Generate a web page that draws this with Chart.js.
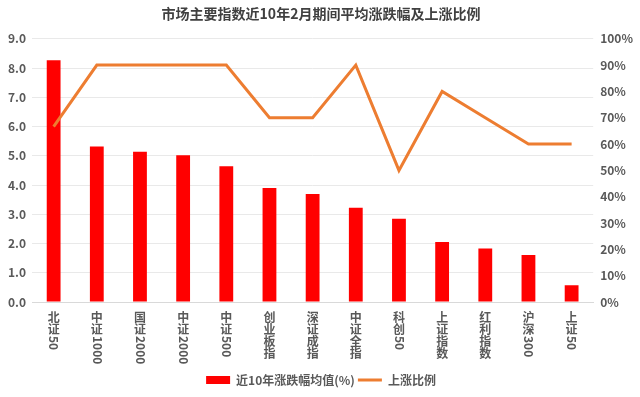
<!DOCTYPE html>
<html>
<head>
<meta charset="utf-8">
<script src="https://cdn.jsdelivr.net/npm/chart.js@4"></script>
<style>
html,body{margin:0;padding:0;background:#fff;}
#wrap{width:640px;height:397px;}
</style>
</head>
<body>
<div id="wrap"><canvas id="c" width="640" height="397"></canvas></div>
<script>
const titleText = '市场主要指数近10年2月期间平均涨跌幅及上涨比例';
const categories = ['北证50','中证1000','国证2000','中证2000','中证500','创业板指','深证成指','中证全指','科创50','上证指数','红利指数','沪深300','上证50'];
const avgChange = [8.27, 5.32, 5.14, 5.02, 4.64, 3.90, 3.69, 3.22, 2.85, 2.05, 1.83, 1.61, 0.57];
const riseRatio = [66.67, 90, 90, 90, 90, 70, 70, 90, 50, 80, 70, 60, 60];
const seriesNames = ['近10年涨跌幅均值(%)', '上涨比例'];

const FONT = '"Noto Sans CJK SC", "Microsoft YaHei", sans-serif';
const TXT = '#595959';

const verticalLabels = {
  id: 'verticalLabels',
  afterDraw(chart) {
    const ctx = chart.ctx;
    const xs = chart.scales.x;
    const top = chart.chartArea.bottom + 9;
    ctx.save();
    ctx.font = 'bold 12px ' + FONT;
    ctx.fillStyle = TXT;
    categories.forEach((lab, i) => {
      const x = xs.getPixelForValue(i);
      let y = top;
      const parts = lab.match(/[\x00-\x7f]+|[^\x00-\x7f]/g);
      parts.forEach(p => {
        if (/^[\x00-\x7f]+$/.test(p)) {
          const w = ctx.measureText(p).width;
          ctx.save();
          ctx.translate(x, y);
          ctx.rotate(Math.PI / 2);
          ctx.textAlign = 'left';
          ctx.textBaseline = 'alphabetic';
          ctx.fillText(p, 1, 4.3);
          ctx.restore();
          y += w + 1;
        } else {
          ctx.textAlign = 'center';
          ctx.textBaseline = 'top';
          ctx.fillText(p, x, y);
          y += 12;
        }
      });
    });
    ctx.restore();
  }
};

new Chart(document.getElementById('c'), {
  data: {
    labels: categories,
    datasets: [
      {
        type: 'bar',
        label: seriesNames[0],
        data: avgChange,
        backgroundColor: '#FF0000',
        yAxisID: 'y',
        barPercentage: 0.32,
        categoryPercentage: 1,
        pointStyle: 'rect',
        order: 2
      },
      {
        type: 'line',
        label: seriesNames[1],
        data: riseRatio,
        borderColor: '#ED7D31',
        backgroundColor: '#ED7D31',
        borderWidth: 3,
        pointRadius: 0,
        pointStyle: 'line',
        tension: 0,
        yAxisID: 'y1',
        order: 1
      }
    ]
  },
  options: {
    responsive: false,
    animation: false,
    layout: { padding: { left: 2, right: 0, top: 0, bottom: 1 } },
    plugins: {
      title: {
        display: true,
        text: titleText,
        color: '#404040',
        font: { family: FONT, size: 14, weight: 'bold' },
        padding: { top: 5, bottom: 17 }
      },
      legend: {
        position: 'bottom',
        labels: {
          usePointStyle: true,
          pointStyleWidth: 24,
          boxHeight: 8,
          color: TXT,
          font: { family: FONT, size: 12, weight: 'bold' },
          padding: 3,
          sort: (a, b) => a.datasetIndex - b.datasetIndex
        }
      },
      tooltip: { enabled: false }
    },
    scales: {
      x: {
        grid: { display: false },
        border: { display: true, color: '#d9d9d9', width: 1 },
        ticks: { display: false },
        afterFit(scale) { scale.height = 69; }
      },
      y: {
        position: 'left',
        min: 0, max: 9,
        ticks: {
          stepSize: 1,
          color: TXT,
          font: { family: FONT, size: 12, weight: 'bold' },
          callback: v => v.toFixed(1),
          padding: 6
        },
        grid: { color: '#e9e9e9', drawTicks: false },
        border: { display: false }
      },
      y1: {
        position: 'right',
        min: 0, max: 100,
        ticks: {
          stepSize: 10,
          color: TXT,
          font: { family: FONT, size: 12, weight: 'bold' },
          callback: v => v + '%',
          padding: 7
        },
        grid: { drawOnChartArea: false, drawTicks: false },
        border: { display: false }
      }
    }
  },
  plugins: [verticalLabels]
});
</script>
</body>
</html>
